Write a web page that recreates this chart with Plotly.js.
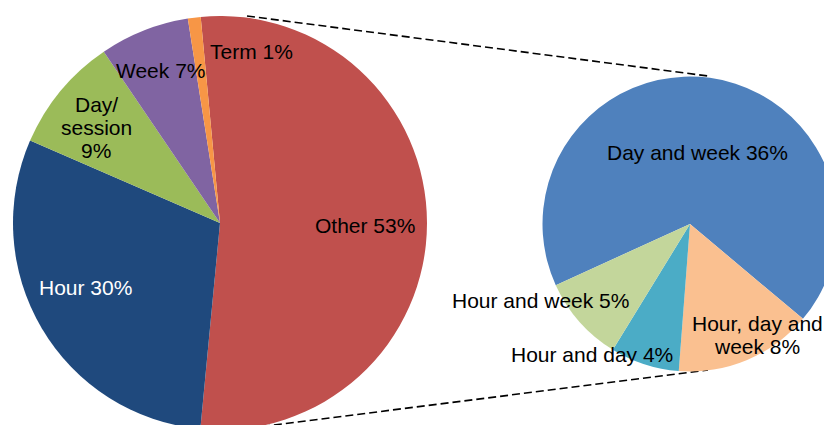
<!DOCTYPE html>
<html>
<head>
<meta charset="utf-8">
<script src="https://cdn.plot.ly/plotly-3.0.1.min.js"></script>
<style>
html, body { margin: 0; padding: 0; overflow: hidden; background: #fff; }
#chart { width: 840px; height: 446px; }
</style>
</head>
<body>
<div id="chart"></div>
<script>
// ---- data ----
const mainLabels = ['Other', 'Hour', 'Day/session', 'Week', 'Term'];
const mainValues = [53, 30, 9, 7, 1];
const mainText = ['Other 53%', 'Hour 30%', 'Day/<br>session<br>9%', 'Week 7%', 'Term 1%'];

const subLabels = ['Day and week', 'Hour, day and week', 'Hour and day', 'Hour and week'];
const subValues = [36, 8, 4, 5];
const subText = ['Day and week 36%', 'Hour, day and<br>week 8%', 'Hour and day 4%', 'Hour and week 5%'];

// ---- styles ----
const mainColors = ['#C0504D', '#1F497D', '#9BBB59', '#8064A2', '#F79646'];
const subColors = ['#4F81BD', '#FAC090', '#4BACC6', '#C3D69B'];
const W = 840, H = 446;
const FONT = 'Liberation Sans, Arial, sans-serif';
const px = x => x / W;
const py = y => 1 - y / H;

// label centre positions (pixels) and colours
const mainLabelPos = [[365, 225], [85, 287], [96, 127], [161, 70], [251, 51]];
const mainLabelColor = ['#000', '#fff', '#000', '#000', '#000'];
const subLabelPos = [[697, 152], [757, 335], [592, 354], [540, 300]];
const LINE = 23;

const annotations = [];
function addLabel(text, pos, color) {
  const lines = text.split('<br>');
  const n = lines.length;
  lines.forEach((ln, i) => {
    const y = pos[1] + (i - (n - 1) / 2) * LINE;
    annotations.push({
      text: ln, x: px(pos[0]), y: py(y), xref: 'paper', yref: 'paper',
      xanchor: 'center', yanchor: 'middle', showarrow: false,
      font: { family: FONT, size: 21, color: color }
    });
  });
}
mainText.forEach((t, i) => addLabel(t, mainLabelPos[i], mainLabelColor[i]));
subText.forEach((t, i) => addLabel(t, subLabelPos[i], '#000'));

const traces = [
  {
    type: 'pie', labels: mainLabels, values: mainValues, sort: false,
    direction: 'clockwise', rotation: -5.35,
    marker: { colors: mainColors, line: { width: 0 } },
    textinfo: 'none', hoverinfo: 'skip', showlegend: false,
    domain: { x: [px(13), px(427)], y: [0, 1] }
  },
  {
    type: 'pie', labels: subLabels, values: subValues, sort: false,
    direction: 'clockwise', rotation: -114.5,
    marker: { colors: subColors, line: { width: 0 } },
    textinfo: 'none', hoverinfo: 'skip', showlegend: false,
    domain: { x: [px(542.5), px(837.5)], y: [py(224 + 147.5), py(224 - 147.5)] }
  }
];

const dashLine = { color: '#000', width: 1.6, dash: '8px,4px' };
const layout = {
  width: W, height: H,
  margin: { l: 0, r: 0, t: 0, b: 0 },
  paper_bgcolor: '#fff', plot_bgcolor: '#fff',
  showlegend: false,
  annotations: annotations,
  shapes: [
    { type: 'line', xref: 'paper', yref: 'paper', layer: 'below',
      x0: px(247), y0: py(16), x1: px(708), y1: py(76), line: dashLine },
    { type: 'line', xref: 'paper', yref: 'paper', layer: 'below',
      x0: px(262), y0: py(426.5), x1: px(708), y1: py(370), line: dashLine }
  ]
};

Plotly.newPlot('chart', traces, layout, { staticPlot: true, displayModeBar: false });
</script>
</body>
</html>
